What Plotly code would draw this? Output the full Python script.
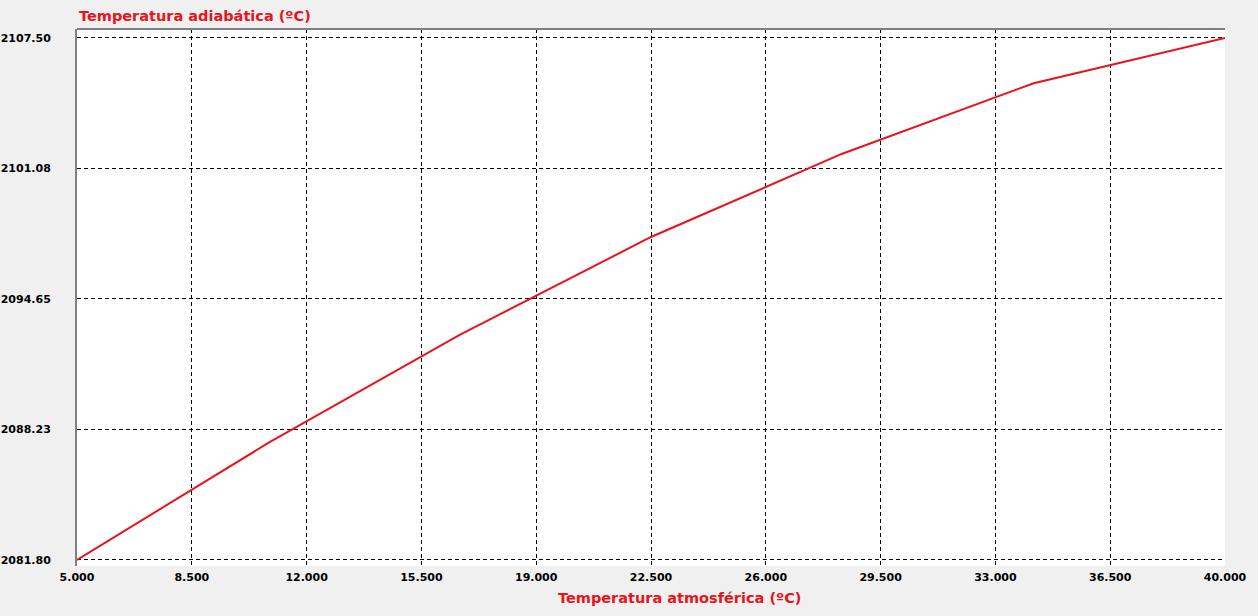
import plotly.graph_objects as go

# Data
temp_atm = [5.0, 10.833, 16.667, 22.5, 28.333, 34.167, 40.0]
temp_adiab = [2081.80, 2087.56, 2092.88, 2097.70, 2101.80, 2105.27, 2107.50]

x_ticks = [5.0, 8.5, 12.0, 15.5, 19.0, 22.5, 26.0, 29.5, 33.0, 36.5, 40.0]
y_ticks = [2081.80, 2088.225, 2094.65, 2101.075, 2107.50]
y_ticktext = ["2081.80", "2088.23", "2094.65", "2101.08", "2107.50"]

title_y = "Temperatura adiabática (ºC)"
title_x = "Temperatura atmosférica (ºC)"

RED = "#e8141c"
FONT = "DejaVu Sans"

fig = go.Figure()
fig.add_trace(go.Scatter(
    x=temp_atm, y=temp_adiab, mode="lines",
    line=dict(color=RED, width=2), showlegend=False, hoverinfo="x+y",
))

fig.update_layout(
    width=1258, height=616,
    margin=dict(l=77, r=33, t=29, b=50),
    paper_bgcolor="#f0f0f0",
    plot_bgcolor="#ffffff",
    font=dict(family=FONT, size=11, color="#000000"),
    xaxis=dict(
        range=[5, 40], tickvals=x_ticks, tickformat=".3f",
        showgrid=True, gridcolor="#000000", gridwidth=1, griddash="4px,3px",
        zeroline=False, showline=False, ticks="", automargin=False,
        tickfont=dict(family=FONT, size=11, color="#000000", weight="bold"),
        ticklabelstandoff=3,
    ),
    yaxis=dict(
        range=[2081.50, 2107.94], tickvals=y_ticks, ticktext=y_ticktext,
        showgrid=True, gridcolor="#000000", gridwidth=1, griddash="4px,3px",
        zeroline=False, showline=True, linecolor="#808080", linewidth=2,
        ticks="", ticklabelstandoff=22, automargin=False,
        tickfont=dict(family=FONT, size=11, color="#000000", weight="bold"),
    ),
    shapes=[
        dict(type="line", xref="paper", yref="paper", x0=0, x1=1, y0=1, y1=1,
             line=dict(color="#808080", width=2)),
    ],
    annotations=[
        dict(text=title_y, xref="paper", yref="paper", x=0, y=1,
             xanchor="left", yanchor="bottom", yshift=3, showarrow=False,
             font=dict(family=FONT, size=14.5, color=RED, weight="bold")),
        dict(text=title_x, xref="paper", yref="paper", x=0.525, y=0,
             xanchor="center", yanchor="top", yshift=-22, showarrow=False,
             font=dict(family=FONT, size=14.5, color=RED, weight="bold")),
    ],
)

fig.write_html("out.html", config={"displayModeBar": False},
               post_script="document.body.style.margin='0';")
